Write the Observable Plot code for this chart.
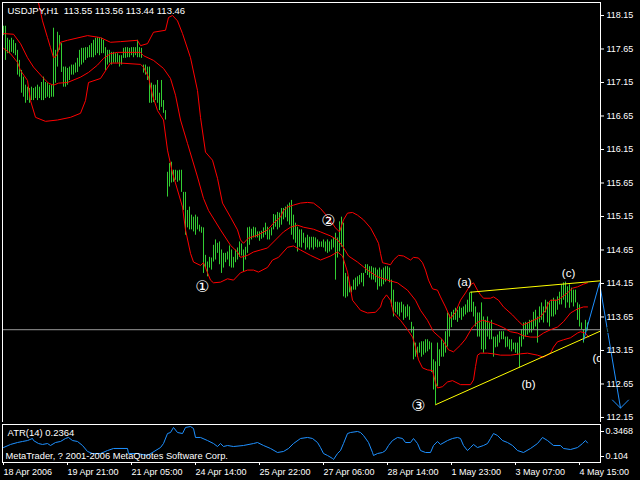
<!DOCTYPE html>
<html><head><meta charset="utf-8">
<script src="https://cdn.jsdelivr.net/npm/d3@7"></script>
<script src="https://cdn.jsdelivr.net/npm/@observablehq/plot@0.6"></script>
<style>
html,body{margin:0;padding:0;background:#000;}
#wrap{position:relative;width:640px;height:480px;background:#000;overflow:hidden;}
#wrap svg{position:absolute;left:0;}
</style></head><body><div id="wrap"></div>
<script>
// ---------- DATA ----------
const symbol = "USDJPY,H1";
const lastOHLC = [113.55, 113.56, 113.44, 113.46];
const atrName = "ATR(14)";
const atrLast = 0.2364;
const copyright = "MetaTrader, ? 2001-2006 MetaQuotes Software Corp.";

// hourly bar highs / lows (bar index 0..292)
const high = [117.99,117.99,117.81,117.78,117.81,117.78,117.73,117.63,117.48,117.33,
117.23,117.11,117.08,117.06,117.08,117.06,117.08,117.11,117.08,117.15,
117.23,117.15,117.14,117.11,117.11,117.96,117.63,117.90,117.85,117.73,
117.38,117.38,117.36,117.38,117.41,117.41,117.44,117.51,117.63,117.66,
117.66,117.67,117.67,117.70,117.73,117.78,117.81,117.82,117.81,117.81,
117.78,117.67,117.63,117.63,117.60,117.60,117.58,117.58,117.55,117.55,
117.66,117.67,117.67,117.66,117.67,117.67,117.67,117.78,117.67,117.66,
117.41,117.41,117.38,117.38,117.14,117.11,117.11,117.18,116.99,117.18,
116.88,116.73,115.81,115.94,115.96,115.84,115.84,115.83,115.84,115.84,
115.51,115.51,115.24,115.29,115.17,115.14,115.17,115.14,115.02,114.99,
114.98,114.57,114.47,114.54,114.53,114.72,114.80,114.75,114.77,114.65,
114.60,114.60,114.62,114.71,114.65,114.54,114.65,114.68,114.77,114.74,
114.65,114.69,114.98,114.99,114.96,114.99,114.98,114.92,114.92,114.93,
114.98,115.05,114.99,114.95,114.98,115.18,115.17,115.21,115.20,115.27,
115.27,115.29,115.32,115.35,115.39,115.17,115.05,114.99,114.95,114.95,
114.90,114.83,114.87,114.84,114.84,114.84,114.83,114.80,114.77,114.77,
114.80,114.77,114.80,114.77,114.80,114.83,114.90,114.83,115.07,115.14,
115.05,114.30,114.25,114.16,114.10,114.20,114.23,114.25,114.27,114.30,
114.30,114.43,114.43,114.40,114.40,114.38,114.38,114.35,114.38,114.35,
114.38,114.40,114.40,114.38,114.20,114.05,113.87,113.87,113.86,113.87,
113.83,113.80,113.83,113.80,113.57,113.50,113.26,113.20,113.26,113.28,
113.28,113.31,113.31,113.28,113.26,113.01,112.98,113.26,113.16,113.31,
113.26,113.43,113.71,113.68,113.72,113.75,113.78,113.75,113.80,113.78,
113.80,113.83,113.90,114.01,114.02,113.87,113.80,113.71,113.71,113.86,
113.65,113.60,113.65,113.56,113.60,113.35,113.35,113.38,113.43,113.43,
113.43,113.35,113.35,113.31,113.31,113.26,113.26,113.26,113.35,113.46,
113.56,113.57,113.56,113.60,113.60,113.72,113.75,113.65,113.80,113.86,
113.80,113.90,113.87,113.86,113.90,113.93,113.90,113.95,114.02,114.13,
114.16,114.17,114.10,114.13,114.08,114.05,114.05,113.86,113.83,113.56,
113.46,113.60,113.56];
const low = [117.85,117.48,117.58,117.58,117.60,117.58,117.55,117.26,117.23,116.99,
116.93,116.84,116.88,116.84,116.88,116.88,116.91,116.88,116.91,116.88,
116.88,116.91,116.93,116.91,116.93,116.93,117.14,117.38,117.63,117.30,
117.08,117.08,117.11,117.18,117.26,117.26,117.29,117.30,117.38,117.41,
117.44,117.48,117.51,117.52,117.52,117.52,117.55,117.58,117.55,117.58,
117.58,117.33,117.41,117.44,117.41,117.44,117.44,117.44,117.38,117.41,
117.51,117.51,117.52,117.52,117.55,117.52,117.55,117.52,117.52,117.51,
117.29,117.26,117.18,116.84,116.84,116.85,116.88,116.84,116.73,116.78,
116.69,116.59,115.44,115.59,115.65,115.66,115.69,115.66,115.68,115.51,
115.24,114.87,114.98,114.95,114.95,114.92,114.87,114.95,114.92,114.90,
114.30,114.38,114.25,114.38,114.35,114.47,114.50,114.60,114.43,114.30,
114.38,114.46,114.50,114.40,114.38,114.38,114.46,114.50,114.54,114.56,
114.32,114.50,114.60,114.72,114.80,114.83,114.83,114.83,114.78,114.81,
114.83,114.87,114.80,114.80,114.86,114.95,114.99,114.95,114.98,115.02,
115.10,115.13,115.07,115.02,114.87,114.80,114.75,114.62,114.69,114.68,
114.75,114.65,114.68,114.65,114.68,114.65,114.69,114.68,114.69,114.69,
114.68,114.62,114.60,114.62,114.65,114.68,114.20,114.53,114.62,114.69,
113.95,113.93,113.95,114.01,114.01,114.05,114.05,114.10,114.13,114.16,
114.10,114.30,114.27,114.23,114.20,114.20,114.16,114.05,114.10,114.10,
114.13,114.17,114.20,114.16,113.80,113.65,113.71,113.68,113.65,113.71,
113.60,113.63,113.65,113.60,113.41,113.01,113.05,113.05,113.11,113.05,
113.08,113.11,113.13,113.16,112.82,112.56,112.34,112.61,112.91,113.05,
113.05,113.11,113.20,113.35,113.49,113.60,113.60,113.57,113.63,113.60,
113.65,113.68,113.71,113.72,113.72,113.65,113.50,113.35,113.35,113.16,
113.11,113.16,113.35,113.31,113.31,113.05,113.19,113.20,113.26,113.31,
113.31,113.19,113.20,113.16,113.13,113.16,113.11,113.08,112.89,113.20,
113.31,113.35,113.38,113.41,113.41,113.46,113.50,113.26,113.56,113.60,
113.56,113.71,113.56,113.50,113.65,113.65,113.68,113.75,113.83,113.83,
113.90,113.78,113.86,113.78,113.86,113.80,113.86,113.60,113.50,113.46,
113.26,113.41,113.44];

// Bollinger bands: [bar index, price]
const bandUpper = [[16.5,118.43],[17.5,118.34],[19.5,118.07],[22,117.82],[23.5,117.67],[25,117.52],[26.5,117.55],[27.5,117.63],[28.5,117.75],[32,117.78],[42,117.85],[48.5,117.82],[53.5,117.75],[58.5,117.76],[67,117.78],[68.5,117.70],[72,117.73],[75,117.90],[81,117.93],[82.5,118.12],[84.5,118.15],[87,118.07],[89.5,117.88],[93.5,117.52],[97,117.03],[98.5,116.63],[101,116.11],[104.5,115.99],[107,115.72],[109.5,115.35],[113.5,115.14],[117,114.95],[118.5,114.80],[120,114.75],[122.5,114.83],[127,114.87],[132,114.95],[135,115.05],[138.5,115.14],[140,115.24],[142,115.29],[145,115.32],[148.5,115.35],[152,115.36],[155,115.35],[158.5,115.27],[162.5,115.13],[166,114.98],[168,114.92],[170,115.10],[172,115.20],[174.5,115.21],[177,115.17],[180,115.10],[183.5,114.98],[186,114.84],[187.5,114.75],[188.5,114.60],[189.5,114.46],[193.5,114.43],[195,114.50],[197.5,114.57],[200,114.56],[203.5,114.50],[205,114.54],[207.5,114.53],[209.5,114.46],[211,114.35],[212.5,114.20],[214.5,114.07],[217,114.05],[218.5,113.95],[221,113.80],[223.5,113.63],[226,113.72],[228.5,113.90],[231,114.01],[233.5,114.13],[235,114.16],[237,114.05],[238.5,113.98],[240,113.93],[243.5,113.93],[245,113.95],[247.5,113.90],[250,113.80],[254.5,113.68],[257,113.60],[259.5,113.53],[262,113.56],[265,113.60],[268.5,113.65],[271,113.75],[272.5,113.86],[273.5,113.90],[277,113.90],[278.5,113.93],[282,114.01],[284.5,114.08],[287,114.10],[290,114.14],[292,114.16]];
const bandMiddle = [[0,117.88],[5,117.87],[8.5,117.73],[12,117.52],[15,117.38],[19.5,117.23],[22.5,117.14],[25,117.11],[27.5,117.14],[32,117.15],[38.5,117.23],[42.5,117.30],[47,117.41],[50,117.51],[53.5,117.58],[57,117.60],[68.5,117.60],[70,117.55],[75,117.48],[80,117.36],[83.5,117.21],[86,116.96],[88.5,116.59],[92,116.24],[97,115.74],[100,115.42],[102.5,115.24],[108.5,114.95],[113.5,114.72],[117,114.62],[118.5,114.54],[122,114.57],[125,114.62],[128.5,114.65],[132,114.68],[135,114.77],[140,114.92],[143.5,114.99],[147,115.02],[150,114.99],[155,114.96],[158.5,114.92],[163.5,114.86],[167,114.80],[169.5,114.71],[172.5,114.56],[177,114.47],[182,114.35],[187,114.25],[192,114.20],[197,114.16],[202,114.05],[206,113.90],[208.5,113.75],[212,113.60],[215,113.43],[219.5,113.31],[222.5,113.16],[225,113.13],[228.5,113.23],[231,113.32],[234.5,113.50],[237,113.57],[239.5,113.60],[243.5,113.57],[247,113.53],[250,113.49],[253.5,113.43],[257,113.41],[260,113.37],[263.5,113.35],[267,113.35],[270,113.41],[273.5,113.46],[277,113.50],[280,113.58],[283.5,113.71],[287,113.77],[290,113.80],[292,113.80]];
const bandLower = [[0,117.66],[3.5,117.58],[7,117.45],[8.5,117.33],[12,117.18],[13.5,116.88],[16,116.63],[21,116.57],[27,116.59],[33.5,116.63],[38.5,116.69],[41,116.88],[42.5,117.15],[48.5,117.21],[53.5,117.44],[58.5,117.44],[68.5,117.42],[70,117.38],[72.5,117.23],[74.5,116.96],[77,116.73],[80,116.59],[82,116.14],[84.5,115.80],[89.5,115.29],[91,114.95],[93.5,114.60],[95,114.47],[98.5,114.42],[100,114.46],[102,114.31],[103.5,114.20],[105,114.16],[108.5,114.17],[112,114.22],[115,114.20],[118.5,114.31],[122,114.35],[125,114.35],[127.5,114.32],[132,114.39],[134.5,114.50],[137.5,114.54],[142,114.69],[145,114.71],[148.5,114.65],[153.5,114.57],[158.5,114.50],[163.5,114.56],[167,114.62],[169.5,114.56],[172,114.32],[174.5,113.90],[178.5,113.75],[182,113.71],[186,113.72],[188.5,113.80],[189.5,113.90],[191.5,113.98],[193.5,113.90],[195,113.71],[198.5,113.60],[202,113.46],[204.5,113.35],[206,113.20],[207.5,113.01],[209.5,112.89],[212,112.86],[214.5,112.85],[216,112.67],[217,112.59],[219.5,112.61],[222,112.68],[224.5,112.70],[228.5,112.64],[233.5,112.64],[235,112.71],[236,112.91],[237,113.08],[238.5,113.11],[242,113.11],[245,113.10],[248.5,113.08],[253.5,113.08],[258.5,113.10],[262,113.11],[267,113.08],[270,113.05],[273.5,113.11],[275,113.20],[277,113.28],[280,113.31],[283.5,113.34],[287,113.41],[288.5,113.43],[291,113.41],[292.5,113.35]];

// ATR(14): [bar index, value]
const atr = [[0,0.191],[3.5,0.221],[7,0.240],[9.5,0.250],[12,0.259],[14.5,0.279],[15,0.259],[17.5,0.230],[19.5,0.221],[22,0.230],[23.5,0.211],[26,0.240],[28.5,0.250],[31,0.279],[32.5,0.289],[34.5,0.259],[37,0.250],[39.5,0.211],[42,0.153],[44.5,0.133],[48.5,0.133],[52,0.162],[55,0.182],[62,0.182],[62.5,0.133],[67,0.133],[72,0.114],[78.5,0.191],[80,0.230],[82,0.327],[83.5,0.337],[85,0.386],[87,0.337],[89.5,0.327],[91,0.386],[93.5,0.395],[95,0.376],[96,0.289],[98.5,0.289],[102,0.259],[105,0.230],[107,0.201],[108.5,0.230],[110,0.201],[112,0.211],[115,0.201],[120,0.211],[125,0.230],[127,0.240],[130,0.211],[133.5,0.182],[137,0.143],[140,0.153],[142.5,0.182],[145,0.230],[148.5,0.279],[152,0.289],[154.5,0.279],[157,0.240],[158.5,0.191],[160,0.133],[162,0.114],[164.5,0.085],[165,0.075],[167,0.133],[168.5,0.162],[170,0.230],[172,0.327],[173.5,0.337],[177,0.347],[178.5,0.337],[180,0.308],[182.5,0.240],[184.5,0.143],[185,0.114],[187,0.133],[189.5,0.143],[191,0.162],[192.5,0.211],[194.5,0.259],[197,0.289],[199.5,0.279],[201,0.240],[203.5,0.240],[205,0.279],[207,0.230],[208.5,0.162],[211,0.143],[213.5,0.143],[215,0.211],[217,0.250],[218.5,0.221],[222,0.259],[224.5,0.279],[227,0.289],[228.5,0.279],[230,0.211],[232,0.162],[233.5,0.191],[235,0.221],[237,0.191],[240,0.211],[242,0.230],[243.5,0.279],[245,0.327],[247,0.308],[249.5,0.259],[252,0.240],[254.5,0.211],[257,0.162],[260,0.143],[263.5,0.182],[267,0.230],[269.5,0.289],[272,0.259],[275,0.211],[278.5,0.211],[280,0.182],[283.5,0.172],[287,0.191],[289.5,0.230],[291,0.259],[292,0.236]];

// drawn objects: trendlines, projection, wave labels
const trendTop = [[233.5,114.02],[298.5,114.19]];
const trendBottom = [[216,112.34],[298.5,113.44]];
const projection = [[290,113.30],[298,114.16],[308.5,112.29]];
const arrowHead = [[304.5,112.41],[308.5,112.29],[312.5,112.41]];
const waveText = ["(a)","(b)","(c)"];
const waveIdx = [230.5, 262.5, 282.5];
const wavePrice = [114.17, 112.64, 114.30];
const countText = ["\u2460","\u2461","\u2462"];
const countIdx = [99.5, 162.5, 207.5];
const countPrice = [114.10, 115.08, 112.32];
const partialText = "(d)";
const partialIdx = 294.5;
const partialPrice = 113.04;

// axes
const priceTicks = [118.15,117.65,117.15,116.65,116.15,115.65,115.15,114.65,114.15,113.65,113.15,112.65,112.15];
const atrTicks = [0.3468, 0.104];
const timeTickIdx = [0,32,64,96,128,160,192,224,256,288];
const timeTickLabels = ["18 Apr 2006","19 Apr 21:00","21 Apr 05:00","24 Apr 14:00","25 Apr 22:00","27 Apr 06:00","28 Apr 14:00","1 May 23:00","3 May 07:00","4 May 15:00"];

// ---------- CHART ----------
const font = "'Liberation Sans', Arial, sans-serif";
const xDomain = [-0.5, 298.5];
const bars = high.map((h, i) => ({i, high: h, low: low[i]}));
const lastClose = lastOHLC[3];
const title = symbol + "\u00a0\u00a0" + lastOHLC.map(v => v.toFixed(2)).join(" ");
const waves = waveText.map((t, k) => ({t, i: waveIdx[k], p: wavePrice[k]}));
const counts = countText.map((t, k) => ({t, i: countIdx[k], p: countPrice[k]}));
const X = d => d[0], Y = d => d[1];

const mainPlot = Plot.plot({
  width: 640, height: 424,
  marginTop: 2, marginBottom: 2, marginLeft: 2, marginRight: 40,
  x: {domain: xDomain, axis: null},
  y: {domain: [112.075, 118.344], axis: null},
  style: {background: "black", color: "white", fontFamily: font, fontSize: "9px"},
  marks: [
    Plot.ruleX(bars, {x: "i", y1: "low", y2: "high", stroke: "#32cd32", strokeWidth: 1}),
    Plot.ruleY([lastClose], {stroke: "#9a9a9a", strokeWidth: 1}),
    Plot.line(bandUpper, {x: X, y: Y, stroke: "#ff0000", strokeWidth: 1, clip: true}),
    Plot.line(bandMiddle, {x: X, y: Y, stroke: "#ff0000", strokeWidth: 1, clip: true}),
    Plot.line(bandLower, {x: X, y: Y, stroke: "#ff0000", strokeWidth: 1, clip: true}),
    Plot.line(trendTop, {x: X, y: Y, stroke: "#ffff00", strokeWidth: 1}),
    Plot.line(trendBottom, {x: X, y: Y, stroke: "#ffff00", strokeWidth: 1}),
    Plot.line(projection, {x: X, y: Y, stroke: "#1e90ff", strokeWidth: 1}),
    Plot.line(arrowHead, {x: X, y: Y, stroke: "#1e90ff", strokeWidth: 1}),
    Plot.text(waves, {x: "i", y: "p", text: "t", fill: "white", fontSize: 11.5, fontFamily: font}),
    Plot.text(counts, {x: "i", y: "p", text: "t", fill: "white", fontSize: 16, fontFamily: "'DejaVu Sans', sans-serif"}),
    Plot.text([partialText], {x: () => partialIdx, y: () => partialPrice, text: d => d, textAnchor: "start", fill: "white", fontSize: 11.5, fontFamily: font, clip: true}),
    Plot.frame({stroke: "white"}),
    Plot.axisY({anchor: "right", ticks: priceTicks, tickFormat: d => d.toFixed(2), tickSize: 3, tickPadding: 3, fontSize: 9, label: null}),
    Plot.text([title], {frameAnchor: "top-left", dx: 5, dy: 5, lineAnchor: "top", textAnchor: "start", fill: "white", fontSize: 9.5, text: d => d}),
    Plot.text([lastClose], {y: d => d, text: d => d.toFixed(2), frameAnchor: "right", dx: 5, textAnchor: "start", fill: "black", fontSize: 9, ariaLabel: "price-label"})
  ]
});

const atrPlot = Plot.plot({
  width: 640, height: 58,
  marginTop: 2, marginBottom: 18, marginLeft: 2, marginRight: 40,
  x: {domain: xDomain, axis: null},
  y: {domain: [0.0458, 0.4148], axis: null},
  style: {background: "black", color: "white", fontFamily: font, fontSize: "9px"},
  marks: [
    Plot.line(atr, {x: X, y: Y, stroke: "#1e90ff", strokeWidth: 1}),
    Plot.frame({stroke: "white"}),
    Plot.axisY({anchor: "right", ticks: atrTicks, tickFormat: d => String(d), tickSize: 3, tickPadding: 2, fontSize: 9, label: null}),
    Plot.axisX({anchor: "bottom", ticks: timeTickIdx, tickFormat: d => timeTickLabels[timeTickIdx.indexOf(d)], tickSize: 3, tickPadding: 3, textAnchor: "start", fontSize: 9, label: null}),
    Plot.text([atrName + " " + atrLast.toFixed(4)], {frameAnchor: "top-left", dx: 5, dy: 5, lineAnchor: "top", textAnchor: "start", fill: "white", fontSize: 9.5, text: d => d}),
    Plot.text([copyright], {frameAnchor: "top-left", dx: 3, dy: 28, lineAnchor: "top", textAnchor: "start", fill: "white", fontSize: 9.3, text: d => d})
  ]
});

const wrap = document.getElementById("wrap");
mainPlot.style.top = "0px";
atrPlot.style.top = "422px";
wrap.appendChild(mainPlot);
wrap.appendChild(atrPlot);

// white box behind the current price label
const g = mainPlot.querySelector('g[aria-label="price-label"]');
if (g) {
  const t = g.querySelector("text");
  const bb = t.getBBox();
  const r = document.createElementNS("http://www.w3.org/2000/svg", "rect");
  r.setAttribute("x", bb.x - 3.5);
  r.setAttribute("y", bb.y - 0.5);
  r.setAttribute("width", bb.width + 6);
  r.setAttribute("height", bb.height + 1);
  r.setAttribute("fill", "white");
  r.setAttribute("transform", t.getAttribute("transform") || g.getAttribute("transform") || "");
  t.parentNode.insertBefore(r, t);
}
</script></body></html>
